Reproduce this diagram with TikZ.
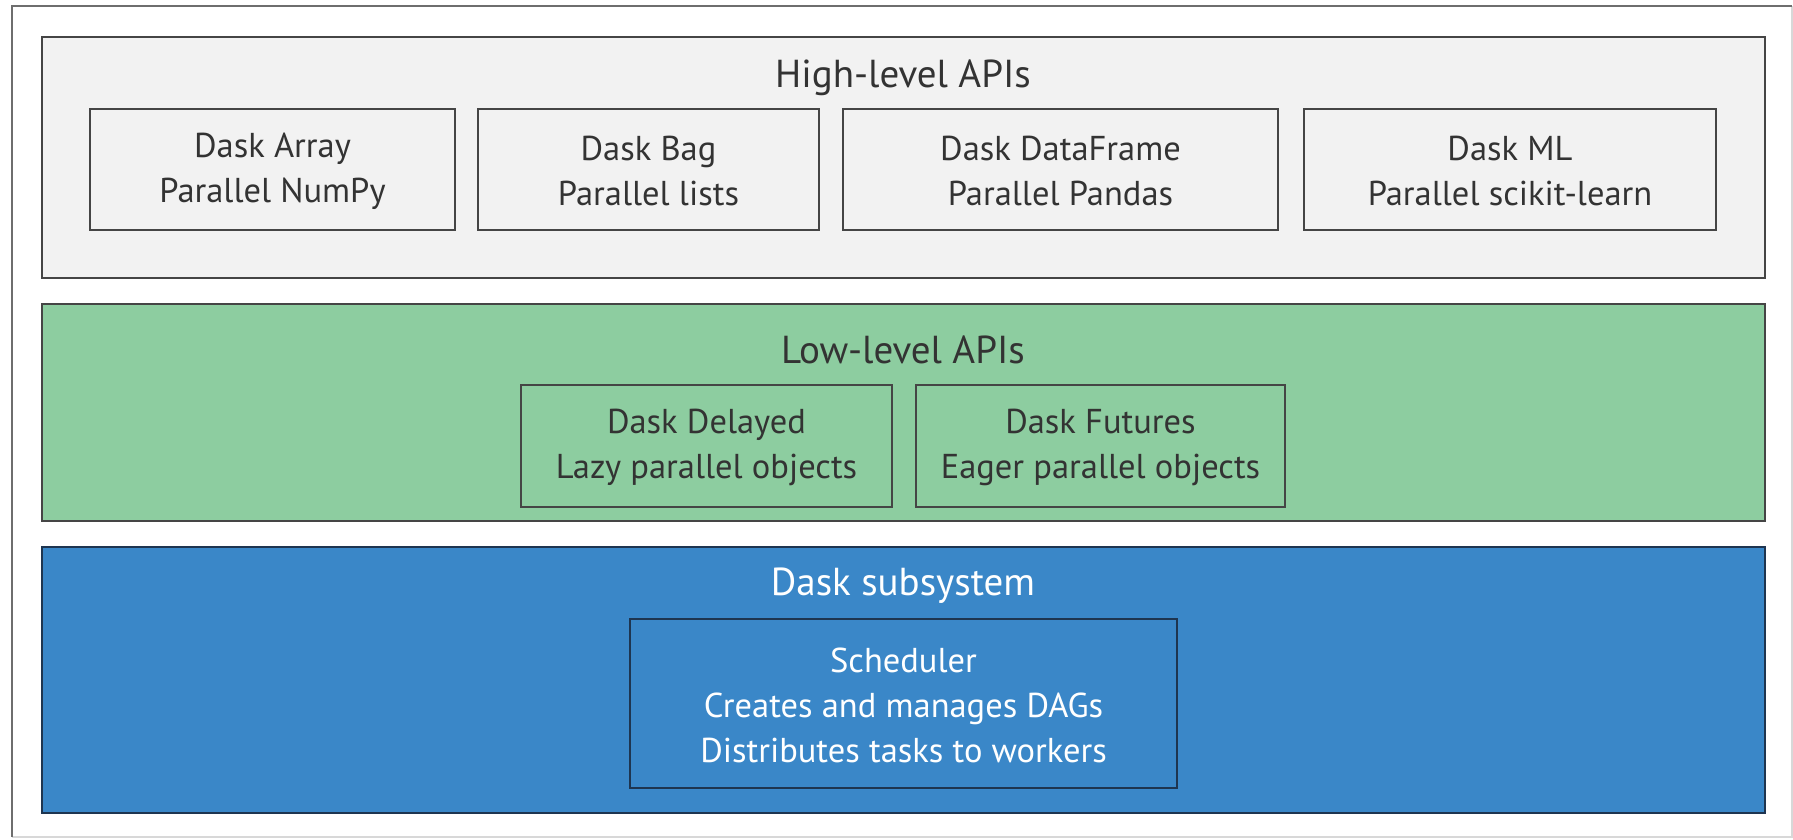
\documentclass[tikz,border=0pt]{standalone}
\usepackage{fontspec}
\setmainfont{PT Sans}
\definecolor{framegray}{HTML}{6E6E6E}
\definecolor{lightframe}{HTML}{D8D8D8}
\definecolor{panelgray}{HTML}{F2F2F2}
\definecolor{panelgreen}{HTML}{8DCDA0}
\definecolor{panelblue}{HTML}{3A87C8}
\definecolor{edgegray}{HTML}{454545}
\definecolor{edgeblue}{HTML}{1E3550}
\definecolor{txt}{HTML}{333333}
\begin{document}
\begin{tikzpicture}[x=1pt,y=-1pt,
  panel/.style={draw=edgegray,line width=2.6pt},
  inner/.style={draw=edgegray,line width=2.6pt},
  lbl/.style={font=\fontsize{34.5}{45}\selectfont,text=txt,align=center,inner sep=0pt},
  title/.style={font=\fontsize{39}{45}\selectfont,text=txt,inner sep=0pt}]
\useasboundingbox (0,0) rectangle (1793,839);
% outer frame
\draw[lightframe,line width=1.5pt] (12,837) -- (1792,837) -- (1792,6);
\draw[framegray,line width=2pt] (12,837) -- (12,6) -- (1792,6);
% high-level
\draw[panel,fill=panelgray] (42,37) rectangle (1765,278);
\node[title] (hl) at (903,78) {High-level APIs};
\draw[inner] (90,109) rectangle (455,230);
\node[lbl] (arr) at (272.5,171) {Dask Array\\Parallel NumPy};
\draw[inner] (478,109) rectangle (819,230);
\node[lbl] (bag) at (648.5,171) {Dask Bag\\Parallel lists};
\draw[inner] (843,109) rectangle (1278,230);
\node[lbl] (df) at (1060.5,171) {Dask DataFrame\\Parallel Pandas};
\draw[inner] (1304,109) rectangle (1716,230);
\node[lbl] (ml) at (1510,171) {Dask ML\\Parallel scikit-learn};
% low-level
\draw[panel,fill=panelgreen] (42,304) rectangle (1765,521);
\node[title] (ll) at (903,350) {Low-level APIs};
\draw[inner] (521,385) rectangle (892,507);
\node[lbl] (del) at (706.5,447) {Dask Delayed\\Lazy parallel objects};
\draw[inner] (916,385) rectangle (1285,507);
\node[lbl] (fut) at (1100.5,447) {Dask Futures\\Eager parallel objects};
% subsystem
\draw[draw=edgeblue,line width=2.6pt,fill=panelblue] (42,547) rectangle (1765,813);
\node[title,text=white] (ds) at (903,586) {Dask subsystem};
\draw[draw=edgeblue,line width=2.6pt] (630,619) rectangle (1177,788);
\node[lbl,text=white] (sch) at (903.5,705) {Scheduler\\Creates and manages DAGs\\Distributes tasks to workers};
\end{tikzpicture}
\end{document}
